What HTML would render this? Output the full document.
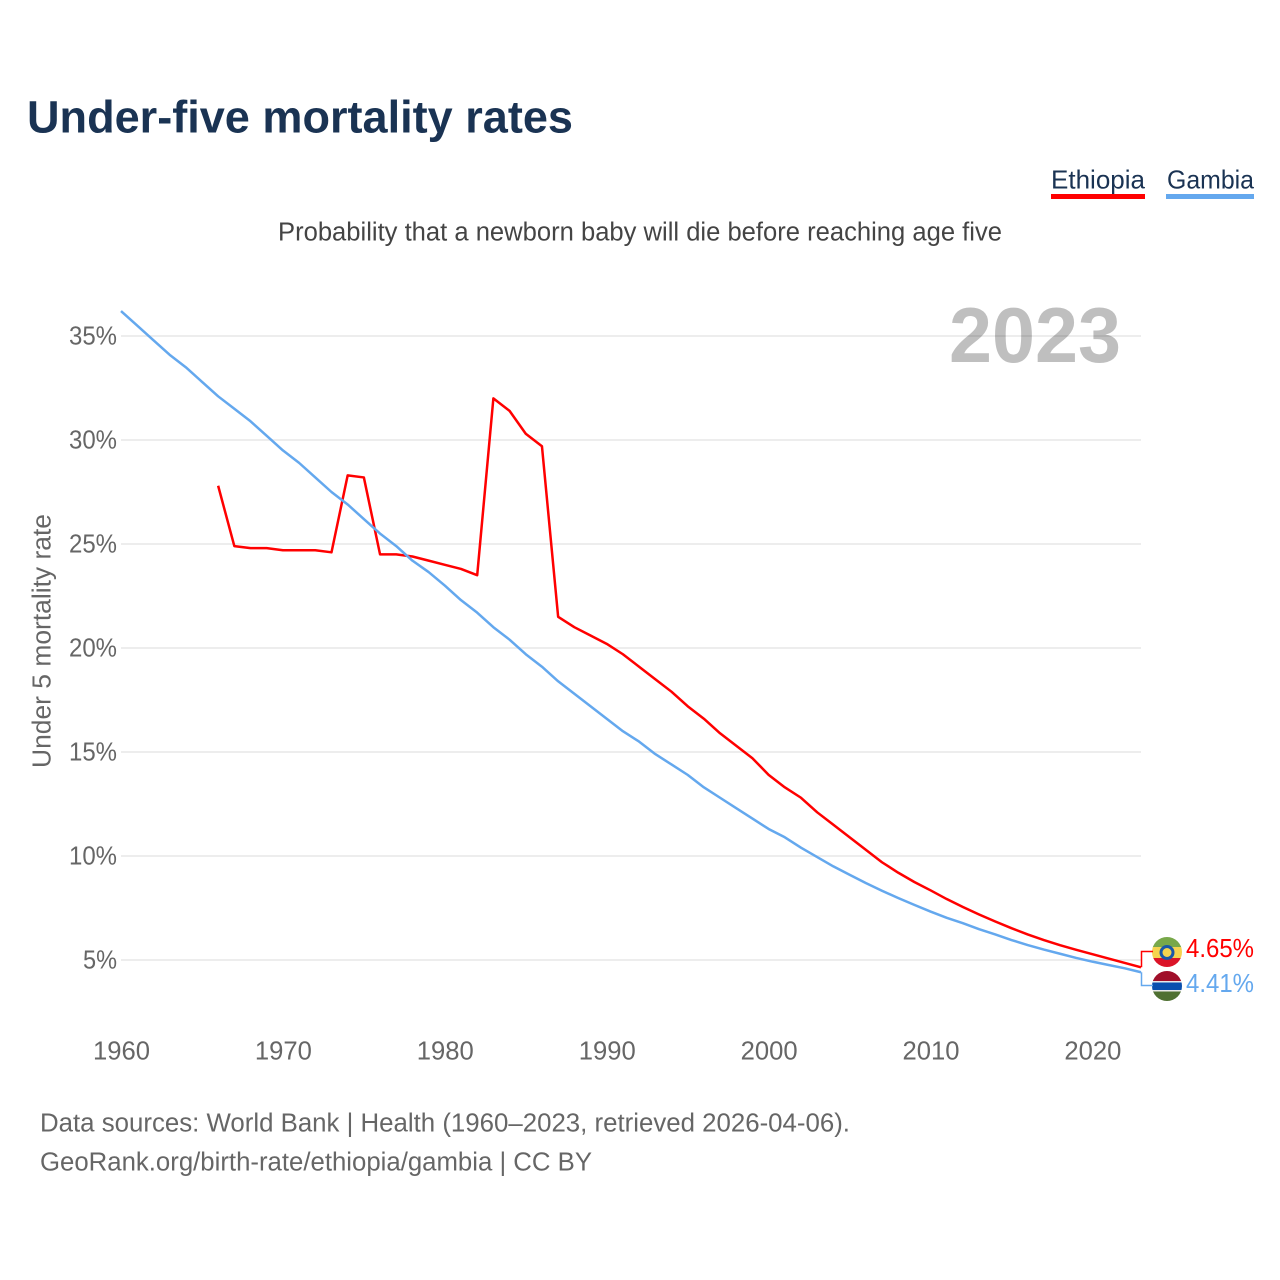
<!DOCTYPE html>
<html lang="en">
<head>
<meta charset="utf-8">
<title>Under-five mortality rates</title>
<style>
html,body{margin:0;padding:0;background:#fff;width:1280px;height:1280px;overflow:hidden}
svg{display:block}
text{font-family:"Liberation Sans",sans-serif}
</style>
</head>
<body>
<svg id="chart" width="1280" height="1280" viewBox="0 0 1280 1280" xmlns="http://www.w3.org/2000/svg">
  <defs>
    <clipPath id="clip-et"><circle cx="1167" cy="952" r="15"/></clipPath>
    <clipPath id="clip-gm"><circle cx="1167" cy="986" r="15"/></clipPath>
  </defs>
  <text x="27" y="132.500" font-size="45" font-weight="700" fill="#1a3353" textLength="546" lengthAdjust="spacingAndGlyphs">Under-five mortality rates</text>
  <g>
    <g>
      <text x="1051" y="188.500" font-size="26" fill="#1a3353" textLength="94" lengthAdjust="spacingAndGlyphs">Ethiopia</text>
      <rect x="1051" y="194" width="94" height="5" fill="#ff0000"/>
    </g>
    <g>
      <text x="1167" y="188.500" font-size="26" fill="#1a3353" textLength="87" lengthAdjust="spacingAndGlyphs">Gambia</text>
      <rect x="1166" y="194" width="88" height="5" fill="#64a8ee"/>
    </g>
  </g>
  <text x="278" y="240.500" font-size="25.500" fill="#444" textLength="724" lengthAdjust="spacingAndGlyphs">Probability that a newborn baby will die before reaching age five</text>
  <text transform="translate(50.500,768) rotate(-90)" font-size="25.500" fill="#666" textLength="254" lengthAdjust="spacingAndGlyphs">Under 5 mortality rate</text>
  <text x="949" y="362" font-size="78" font-weight="700" fill="#bfbfbf" textLength="172" lengthAdjust="spacingAndGlyphs">2023</text>
  <g id="grid"></g>
  <g id="yticks"></g>
  <g id="xticks"></g>
  <g id="series"></g>
  <g clip-path="url(#clip-et)">
    <rect x="1152" y="937" width="30" height="10.500" fill="#78a84a"/>
    <rect x="1152" y="947" width="30" height="11.500" fill="#f5d34f"/>
    <rect x="1152" y="958" width="30" height="10" fill="#db1428"/>
    <circle cx="1167" cy="952.500" r="7.500" fill="#1a57a8"/>
    <circle cx="1167" cy="952.500" r="4.500" fill="#f5d34f"/>
  </g>
  <g clip-path="url(#clip-gm)">
    <rect x="1152" y="971" width="30" height="10" fill="#a00f2a"/>
    <rect x="1152" y="981" width="30" height="1.500" fill="#e8e8e8"/>
    <rect x="1152" y="982.500" width="30" height="7.500" fill="#0a4fae"/>
    <rect x="1152" y="990" width="30" height="1.500" fill="#e8e8e8"/>
    <rect x="1152" y="991.500" width="30" height="9.500" fill="#4f7032"/>
  </g>
  <g id="endlabels"></g>
  <text x="40" y="1131.500" font-size="25.500" fill="#666" textLength="810" lengthAdjust="spacingAndGlyphs">Data sources: World Bank | Health (1960–2023, retrieved 2026-04-06).</text>
  <text x="40" y="1170.500" font-size="25.500" fill="#666" textLength="552" lengthAdjust="spacingAndGlyphs">GeoRank.org/birth-rate/ethiopia/gambia | CC BY</text>
</svg>
<script>
var yTickValues = [5, 10, 15, 20, 25, 30, 35];
var xTickYears = [1960, 1970, 1980, 1990, 2000, 2010, 2020];
var ethiopiaStartYear = 1966;
var ethiopiaValues = [27.8, 24.9, 24.8, 24.8, 24.7, 24.7, 24.7, 24.6, 28.3, 28.2, 24.5, 24.5, 24.4, 24.2, 24.0, 23.8, 23.5, 32.0, 31.4, 30.3, 29.7, 21.5, 21.0, 20.6, 20.2, 19.7, 19.1, 18.5, 17.9, 17.2, 16.6, 15.9, 15.3, 14.7, 13.9, 13.3, 12.8, 12.1, 11.5, 10.9, 10.3, 9.7, 9.2, 8.75, 8.35, 7.93, 7.55, 7.19, 6.85, 6.53, 6.23, 5.96, 5.71, 5.49, 5.28, 5.07, 4.86, 4.65];
var gambiaStartYear = 1960;
var gambiaValues = [36.2, 35.5, 34.8, 34.1, 33.5, 32.8, 32.1, 31.5, 30.9, 30.2, 29.5, 28.9, 28.2, 27.5, 26.9, 26.2, 25.5, 24.9, 24.2, 23.65, 23.0, 22.3, 21.7, 21.0, 20.4, 19.7, 19.1, 18.4, 17.8, 17.2, 16.6, 16.0, 15.5, 14.9, 14.4, 13.9, 13.3, 12.8, 12.3, 11.8, 11.3, 10.9, 10.4, 9.95, 9.5, 9.1, 8.7, 8.33, 7.98, 7.65, 7.33, 7.03, 6.77, 6.48, 6.23, 5.96, 5.72, 5.5, 5.3, 5.1, 4.92, 4.76, 4.6, 4.41];

var NS = 'http://www.w3.org/2000/svg';
function xScale(year) { return 121 + (year - 1960) * (1020 / 63); }
function yScale(v) { return 960 - (v - 5) * 20.8; }
function mk(tag, parent, attrs, txt) {
  var el = document.createElementNS(NS, tag);
  for (var k in attrs) { el.setAttribute(k, attrs[k]); }
  if (txt !== undefined) { el.textContent = txt; }
  parent.appendChild(el);
  return el;
}
function linePoints(start, values) {
  return values.map(function (v, i) {
    return xScale(start + i).toFixed(2) + ',' + yScale(v).toFixed(2);
  }).join(' ');
}

var grid = document.getElementById('grid');
var yticks = document.getElementById('yticks');
var xticks = document.getElementById('xticks');
var seriesG = document.getElementById('series');
var endG = document.getElementById('endlabels');

yTickValues.forEach(function (v) {
  var gl = mk('line', grid, { x1: 121, x2: 1141, y1: yScale(v), y2: yScale(v), stroke: '#000000', 'stroke-opacity': 0.07, 'stroke-width': 2 });
  
  
  var label = v + '%';
  var t = mk('text', yticks, { x: 117, y: yScale(v) + 8.5, 'text-anchor': 'end', 'font-size': 26, fill: '#666', textLength: v < 10 ? 34 : 48, lengthAdjust: 'spacingAndGlyphs' }, label);
  
  
});

xTickYears.forEach(function (y) {
  var t = mk('text', xticks, { x: xScale(y) + 0.5, y: 1059.5, 'text-anchor': 'middle', 'font-size': 26, fill: '#666', textLength: 57, lengthAdjust: 'spacingAndGlyphs' }, String(y));
  
  
});

var lineEt = mk('polyline', seriesG, { points: linePoints(ethiopiaStartYear, ethiopiaValues), fill: 'none', stroke: '#ff0000', 'stroke-width': 2.5, 'stroke-linejoin': 'round' });


var lineGm = mk('polyline', seriesG, { points: linePoints(gambiaStartYear, gambiaValues), fill: 'none', stroke: '#64a8ee', 'stroke-width': 2.5, 'stroke-linejoin': 'round' });



var lastEt = ethiopiaValues[ethiopiaValues.length - 1];
var lastGm = gambiaValues[gambiaValues.length - 1];
var connEt = mk('polyline', endG, { points: '1141.5,' + yScale(lastEt) + ' 1141.5,951.5 1153,951.5', fill: 'none', stroke: '#ff0000', 'stroke-width': 1.5 });


var connGm = mk('polyline', endG, { points: '1141.5,' + yScale(lastGm) + ' 1141.5,985.5 1153,985.5', fill: 'none', stroke: '#64a8ee', 'stroke-width': 1.5 });


var lblEt = mk('text', endG, { x: 1186, y: 957, 'font-size': 26, fill: '#ff0000', textLength: 68, lengthAdjust: 'spacingAndGlyphs' }, lastEt.toFixed(2) + '%');


var lblGm = mk('text', endG, { x: 1186, y: 992, 'font-size': 26, fill: '#64a8ee', textLength: 68, lengthAdjust: 'spacingAndGlyphs' }, lastGm.toFixed(2) + '%');


</script>
</body>
</html>
